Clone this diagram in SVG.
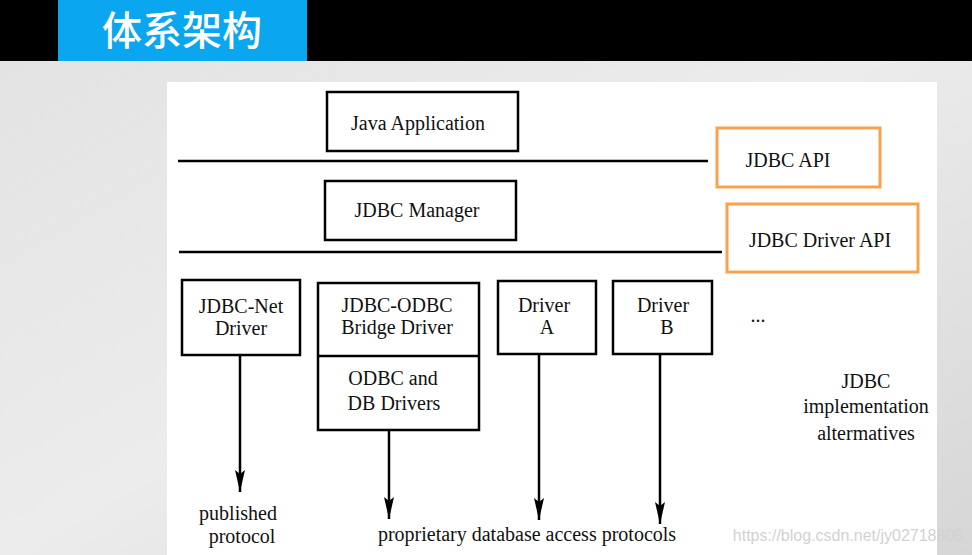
<svg xmlns="http://www.w3.org/2000/svg" width="972" height="555" viewBox="0 0 972 555">
<defs>
<linearGradient id="bg" x1="0" y1="0" x2="1" y2="1">
<stop offset="0" stop-color="#e2e2e2"/>
<stop offset="0.5" stop-color="#ececec"/>
<stop offset="1" stop-color="#d6d6d6"/>
</linearGradient>
<marker id="arr" viewBox="0 0 22 10" refX="22" refY="5" markerWidth="22" markerHeight="10" markerUnits="userSpaceOnUse" orient="auto">
<path d="M0,0 L4,5 L0,10 L22,5 Z" fill="#000"/>
</marker>
</defs>
<style>
.box{fill:#fff;stroke:#000;stroke-width:2.5}
.obox{fill:#fff;stroke:#f7a24f;stroke-width:3}
.t{font-family:"Liberation Serif","Times New Roman",serif;font-size:20px;fill:#111;text-anchor:middle}
.ln{stroke:#000;stroke-width:2.5;fill:none}
</style>
<rect x="0" y="0" width="972" height="555" fill="url(#bg)"/>
<rect x="0" y="0" width="972" height="61" fill="#000"/>
<rect x="58" y="0" width="249" height="61" fill="#0aa6f0"/>
<text x="182" y="45" font-family="Noto Sans CJK SC, sans-serif" font-size="40" font-weight="500" fill="#fff" text-anchor="middle">体系架构</text>
<rect x="167" y="82" width="770" height="473" fill="#fff"/>

<g id="connectors">
<line class="ln" x1="178" y1="161" x2="708" y2="161"/>
<line class="ln" x1="179" y1="252" x2="722" y2="252"/>
<line class="ln" x1="240" y1="355" x2="240" y2="492" marker-end="url(#arr)"/>
<line class="ln" x1="389" y1="430" x2="389" y2="519" marker-end="url(#arr)"/>
<line class="ln" x1="539" y1="354" x2="539" y2="520" marker-end="url(#arr)"/>
<line class="ln" x1="660" y1="354" x2="660" y2="524" marker-end="url(#arr)"/>
</g>

<g id="java-app">
<rect class="box" x="327" y="92" width="191" height="59"/>
<text class="t" x="418" y="130">Java Application</text>
</g>
<g id="jdbc-manager">
<rect class="box" x="325" y="181" width="191" height="59"/>
<text class="t" x="417" y="217">JDBC Manager</text>
</g>
<g id="jdbc-api">
<rect class="obox" x="717" y="128" width="163" height="59"/>
<text class="t" x="788" y="167">JDBC API</text>
</g>
<g id="jdbc-driver-api">
<rect class="obox" x="727" y="204" width="191" height="68"/>
<text class="t" x="820" y="247">JDBC Driver API</text>
</g>
<g id="jdbc-net">
<rect class="box" x="182" y="280" width="118" height="75"/>
<text class="t" x="241" y="313">JDBC-Net</text>
<text class="t" x="241" y="335">Driver</text>
</g>
<g id="jdbc-odbc">
<rect class="box" x="318" y="283" width="161" height="147"/>
<line class="ln" x1="318" y1="356" x2="479" y2="356"/>
<text class="t" x="397" y="312">JDBC-ODBC</text>
<text class="t" x="397" y="334">Bridge Driver</text>
<text class="t" x="393" y="385">ODBC and</text>
<text class="t" x="394" y="410">DB Drivers</text>
</g>
<g id="driver-a">
<rect class="box" x="498" y="281" width="98" height="73"/>
<text class="t" x="544" y="312">Driver</text>
<text class="t" x="547" y="334">A</text>
</g>
<g id="driver-b">
<rect class="box" x="613" y="281" width="99" height="73"/>
<text class="t" x="663" y="312">Driver</text>
<text class="t" x="667" y="334">B</text>
</g>
<text class="t" x="758" y="322">...</text>
<text class="t" x="866" y="388">JDBC</text>
<text class="t" x="866" y="413">implementation</text>
<text class="t" x="866" y="440">altermatives</text>
<text class="t" x="238" y="520">published</text>
<text class="t" x="242" y="543">protocol</text>
<text class="t" x="527" y="541">proprietary database access protocols</text>
<text x="848" y="541" font-family="Liberation Sans, Arial, sans-serif" font-size="16" fill="#d2d2d2" text-anchor="middle">https://blog.csdn.net/jy02718805</text>
</svg>
